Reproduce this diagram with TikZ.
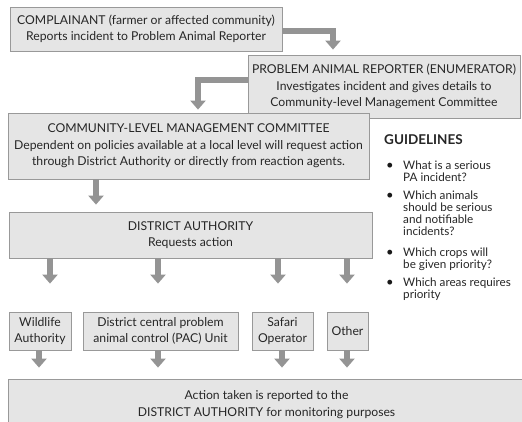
\documentclass[tikz,border=0pt]{standalone}
\usepackage{fontspec}
\setmainfont{Lato}
\usetikzlibrary{arrows.meta}
\begin{document}
\begin{tikzpicture}[x=1pt,y=-1pt,
  box/.style={draw=black!40, fill=black!10, line width=0.8pt, inner sep=0pt, align=center,
    font=\fontsize{12.2}{16.5}\selectfont, text=black!85},
  arr/.style={draw=black!42, line width=6.5pt, -{Triangle[width=15pt,length=9pt]}},
  guide/.style={anchor=north west, align=left, inner sep=0pt, text=black!85,
    font=\fontsize{11.7}{12.2}\selectfont},
  dot/.style={anchor=base, inner sep=0pt, text=black!90, font=\fontsize{13}{12}\selectfont}]
\useasboundingbox (0,0) rectangle (522,421);

\node[box, minimum width=272pt, minimum height=44pt] (comp) at (146,29)
  {COMPLAINANT (farmer or affected community)\\Reports incident to Problem Animal Reporter};
\node[box, minimum width=272pt, minimum height=63pt] (rep) at (384,86.5)
  {PROBLEM ANIMAL REPORTER (ENUMERATOR)\\Investigates incident and gives details to\\Community-level Management Committee};
\node[box, minimum width=361pt, minimum height=66pt] (com) at (188.5,146)
  {COMMUNITY-LEVEL MANAGEMENT COMMITTEE\\Dependent on policies available at a local level will request action\\through District Authority or directly from reaction agents.};
\node[box, minimum width=363pt, minimum height=46pt] (dist) at (190.5,235)
  {DISTRICT AUTHORITY\\Requests action};
\node[box, minimum width=62pt, minimum height=38pt] (wild) at (40,331) {Wildlife\\Authority};
\node[box, minimum width=155pt, minimum height=38pt] (pac) at (160.5,331) {District central problem\\animal control (PAC) Unit};
\node[box, minimum width=61pt, minimum height=38pt] (saf) at (282.5,331) {Safari\\Operator};
\node[box, minimum width=41pt, minimum height=38pt] (oth) at (347.5,331) {Other};
\node[box, minimum width=517pt, minimum height=51pt] (act) at (266.5,404.5)
  {Action taken is reported to the\\DISTRICT AUTHORITY for monitoring purposes};

% connectors
\draw[arr, shorten >=5pt] ([yshift=-2pt]comp.east) -| ([xshift=-51pt]rep.north);
\draw[arr, shorten >=3pt] ([yshift=6.5pt]rep.west) -| ([xshift=9.5pt]com.north);
\draw[arr, shorten >=7pt] ([xshift=-92.5pt]com.south) -- ([xshift=-92.5pt]com.south |- dist.north);
\draw[arr, shorten >=28pt] ([xshift=10pt]wild.north |- dist.south) -- ([xshift=10pt]wild.north);
\draw[arr, shorten >=28pt] ([xshift=-2.5pt]pac.north |- dist.south) -- ([xshift=-2.5pt]pac.north);
\draw[arr, shorten >=28pt] ([xshift=-4.5pt]saf.north |- dist.south) -- ([xshift=-4.5pt]saf.north);
\draw[arr, shorten >=28pt] ([xshift=-0.5pt]oth.north |- dist.south) -- ([xshift=-0.5pt]oth.north);
\draw[arr, shorten >=11pt] ([xshift=-1pt]wild.south) -- ([xshift=-1pt]wild.south |- act.north);
\draw[arr, shorten >=11pt] ([xshift=-2.5pt]pac.south) -- ([xshift=-2.5pt]pac.south |- act.north);
\draw[arr, shorten >=11pt] ([xshift=-0.5pt]saf.south) -- ([xshift=-0.5pt]saf.south |- act.north);
\draw[arr, shorten >=11pt] ([xshift=-0.5pt]oth.south) -- ([xshift=-0.5pt]oth.south |- act.north);

% guidelines
\node[anchor=base west, inner sep=0pt, text=black!85, font=\fontsize{13.5}{14}\selectfont\bfseries] (gl) at (384,144) {GUIDELINES};
\node[dot] (b1) at (390,169) {\textbullet};
\node[guide] (g1) at (403,160.5) {What is a serious\\PA incident?};
\node[dot] (b2) at (390,199) {\textbullet};
\node[guide] (g2) at (403,190.5) {Which animals\\should be serious\\and notifiable\\incidents?};
\node[dot] (b3) at (390,256) {\textbullet};
\node[guide] (g3) at (403,247.5) {Which crops will\\be given priority?};
\node[dot] (b4) at (390,286) {\textbullet};
\node[guide] (g4) at (403,277.5) {Which areas requires\\priority};
\end{tikzpicture}
\end{document}
